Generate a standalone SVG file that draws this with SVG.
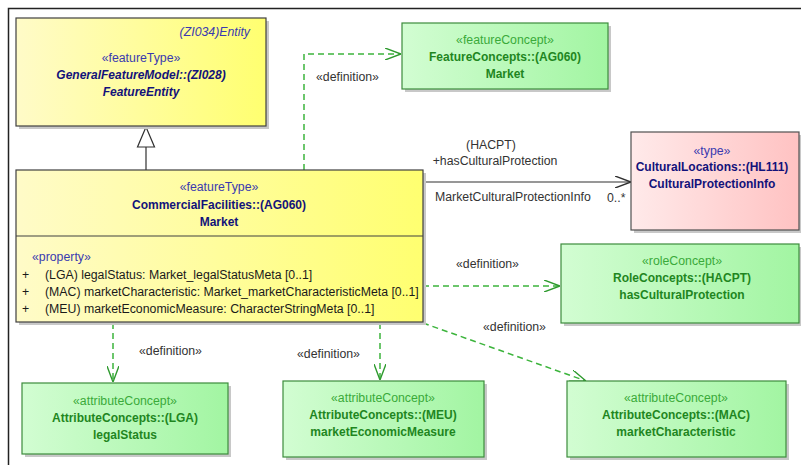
<svg xmlns="http://www.w3.org/2000/svg" width="801" height="465" viewBox="0 0 801 465">
<defs>
<linearGradient id="gY" x1="0" y1="0" x2="1" y2="0"><stop offset="0" stop-color="#fffbc8"/><stop offset="1" stop-color="#ffff70"/></linearGradient>
<linearGradient id="gG" x1="0" y1="0" x2="1" y2="0"><stop offset="0" stop-color="#d2fdd2"/><stop offset="1" stop-color="#a2f5a2"/></linearGradient>
<linearGradient id="gP" x1="0" y1="0" x2="1" y2="0"><stop offset="0" stop-color="#ffeaea"/><stop offset="1" stop-color="#ffc2c2"/></linearGradient>
<marker id="open" viewBox="0 0 16 12" refX="16" refY="6" markerWidth="16" markerHeight="12" markerUnits="userSpaceOnUse" orient="auto"><path d="M0,0 L16,6 L0,12" fill="none" stroke="#2e9a2e" stroke-width="1.4"/></marker>
<marker id="openB" viewBox="0 0 16 12" refX="16" refY="6" markerWidth="16" markerHeight="12" markerUnits="userSpaceOnUse" orient="auto"><path d="M0,0 L16,6 L0,12" fill="none" stroke="#303030" stroke-width="1.4"/></marker>
</defs>
<style>
text{font-family:"Liberation Sans",Arial,sans-serif;font-size:12.3px;}
.shadow{fill:#c8c8c8;}
.ybox{fill:url(#gY);stroke:#404040;stroke-width:1.2;}
.gbox{fill:url(#gG);stroke:#3c8c3c;stroke-width:1.2;}
.pbox{fill:url(#gP);stroke:#505050;stroke-width:1.2;}
.st{fill:#3a3ab0;text-anchor:middle;}
.nm{fill:#12127a;font-weight:bold;font-size:12px;text-anchor:middle;}
.it{font-style:italic;}
.gst{fill:#3aaa3a;text-anchor:middle;}
.gnm{fill:#1f861f;font-weight:bold;font-size:12px;text-anchor:middle;}
.lbl{fill:#333333;}
.att{fill:#1a1a1a;}
.dep{fill:none;stroke:#3cb43c;stroke-width:1.5;stroke-dasharray:6,4;}
</style>
<rect x="8.5" y="8.5" width="800" height="470" fill="#ffffff" stroke="#222222" stroke-width="1.5"/>

<g id="connectors">
<line x1="146" y1="146" x2="146" y2="170" stroke="#303030" stroke-width="1.2"/>
<path d="M146,127 L137.5,147 L154.5,147 Z" fill="#ffffff" stroke="#303030" stroke-width="1.2"/>
<path class="dep" d="M304,170 L304,54 L401,54" marker-end="url(#open)"/>
<text class="lbl" x="316" y="81">«definition»</text>
<line x1="423" y1="182" x2="631" y2="182" stroke="#303030" stroke-width="1.2" marker-end="url(#openB)"/>
<text class="lbl" x="491" y="149" text-anchor="middle">(HACPT)</text>
<text class="lbl" x="495" y="165" text-anchor="middle">+hasCulturalProtection</text>
<text class="lbl" x="435" y="201">MarketCulturalProtectionInfo</text>
<text class="lbl" x="607" y="202">0..*</text>
<path class="dep" d="M423,286 L560,286" marker-end="url(#open)"/>
<text class="lbl" x="456" y="268">«definition»</text>
<path class="dep" d="M423,323 L586,381" marker-end="url(#open)"/>
<text class="lbl" x="483" y="331">«definition»</text>
<path class="dep" d="M113,323 L113,382" marker-end="url(#open)"/>
<text class="lbl" x="139" y="355">«definition»</text>
<path class="dep" d="M380,323 L380,380" marker-end="url(#open)"/>
<text class="lbl" x="297" y="358">«definition»</text>
</g>

<g id="FeatureEntity">
<rect class="shadow" x="19" y="21" width="250" height="108"/>
<rect class="ybox" x="16" y="18" width="250" height="108"/>
<text class="st it" x="250" y="36" style="text-anchor:end">(ZI034)Entity</text>
<text class="st" x="141" y="62">«featureType»</text>
<text class="nm it" x="141" y="79">GeneralFeatureModel::(ZI028)</text>
<text class="nm it" x="141" y="96">FeatureEntity</text>
</g>

<g id="Market">
<rect class="shadow" x="19" y="173" width="407" height="152"/>
<rect class="ybox" x="16" y="170" width="407" height="152"/>
<line x1="16" y1="236" x2="423" y2="236" stroke="#404040" stroke-width="1.2"/>
<text class="st" x="219" y="191">«featureType»</text>
<text class="nm" x="219" y="209">CommercialFacilities::(AG060)</text>
<text class="nm" x="219" y="226">Market</text>
<text class="st" x="32" y="261" style="text-anchor:start">«property»</text>
<text class="att" x="22" y="279">+</text>
<text class="att" x="45" y="279">(LGA) legalStatus: Market_legalStatusMeta [0..1]</text>
<text class="att" x="22" y="296">+</text>
<text class="att" x="45" y="296">(MAC) marketCharacteristic: Market_marketCharacteristicMeta [0..1]</text>
<text class="att" x="22" y="313">+</text>
<text class="att" x="45" y="313">(MEU) marketEconomicMeasure: CharacterStringMeta [0..1]</text>
</g>

<g id="FeatureConceptMarket">
<rect class="shadow" x="405" y="26" width="206" height="66"/>
<rect class="gbox" x="402" y="23" width="206" height="66"/>
<text class="gst" x="505" y="44">«featureConcept»</text>
<text class="gnm" x="505" y="61">FeatureConcepts::(AG060)</text>
<text class="gnm" x="505" y="78">Market</text>
</g>

<g id="CulturalProtectionInfo">
<rect class="shadow" x="634" y="135" width="170" height="98"/>
<rect class="pbox" x="631" y="132" width="168" height="98"/>
<text class="st" x="712" y="155">«type»</text>
<text class="nm" x="712" y="171">CulturalLocations::(HL111)</text>
<text class="nm" x="712" y="188">CulturalProtectionInfo</text>
</g>

<g id="hasCulturalProtection">
<rect class="shadow" x="564" y="247" width="240" height="79"/>
<rect class="gbox" x="561" y="244" width="238" height="79"/>
<text class="gst" x="682" y="265">«roleConcept»</text>
<text class="gnm" x="682" y="282">RoleConcepts::(HACPT)</text>
<text class="gnm" x="682" y="299">hasCulturalProtection</text>
</g>

<g id="legalStatus">
<rect class="shadow" x="25" y="386" width="206" height="71"/>
<rect class="gbox" x="22" y="383" width="206" height="71"/>
<text class="gst" x="125" y="405">«attributeConcept»</text>
<text class="gnm" x="125" y="422">AttributeConcepts::(LGA)</text>
<text class="gnm" x="125" y="439">legalStatus</text>
</g>

<g id="marketEconomicMeasure">
<rect class="shadow" x="286" y="384" width="201" height="76"/>
<rect class="gbox" x="283" y="381" width="201" height="76"/>
<text class="gst" x="383" y="402">«attributeConcept»</text>
<text class="gnm" x="383" y="419">AttributeConcepts::(MEU)</text>
<text class="gnm" x="383" y="436">marketEconomicMeasure</text>
</g>

<g id="marketCharacteristic">
<rect class="shadow" x="570" y="384" width="219" height="76"/>
<rect class="gbox" x="567" y="381" width="219" height="76"/>
<text class="gst" x="676" y="402">«attributeConcept»</text>
<text class="gnm" x="676" y="419">AttributeConcepts::(MAC)</text>
<text class="gnm" x="676" y="436">marketCharacteristic</text>
</g>
</svg>
